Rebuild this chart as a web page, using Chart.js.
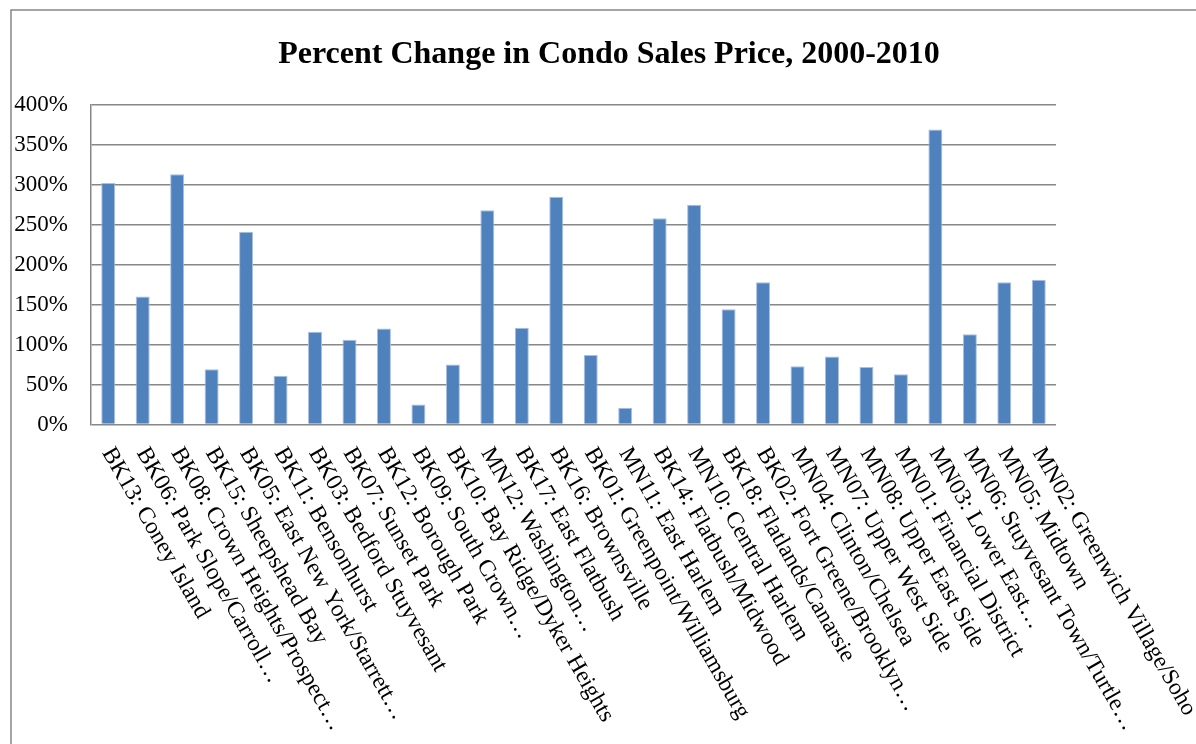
<!DOCTYPE html>
<html>
<head>
<meta charset="utf-8">
<title>Percent Change in Condo Sales Price, 2000-2010</title>
<script src="https://cdn.jsdelivr.net/npm/chart.js@4/dist/chart.umd.min.js"></script>
<style>
  html, body { margin: 0; padding: 0; background: #fff; }
  #wrap { position: relative; width: 1196px; height: 744px; }
</style>
</head>
<body>
<div id="wrap"><canvas id="condoChart"></canvas></div>
<script>
// --- data ---
const districts = [
  'BK13: Coney Island', 'BK06: Park Slope/Carroll…', 'BK08: Crown Heights/Prospect…',
  'BK15: Sheepshead Bay', 'BK05: East New York/Starrett…', 'BK11: Bensonhurst',
  'BK03: Bedford Stuyvesant', 'BK07: Sunset Park', 'BK12: Borough Park',
  'BK09: South Crown…', 'BK10: Bay Ridge/Dyker Heights', 'MN12: Washington…',
  'BK17: East Flatbush', 'BK16: Brownsville', 'BK01: Greenpoint/Williamsburg',
  'MN11: East Harlem', 'BK14: Flatbush/Midwood', 'MN10: Central Harlem',
  'BK18: Flatlands/Canarsie', 'BK02: Fort Greene/Brooklyn…', 'MN04: Clinton/Chelsea',
  'MN07: Upper West Side', 'MN08: Upper East Side', 'MN01: Financial District',
  'MN03: Lower East…', 'MN06: Stuyvesant Town/Turtle…', 'MN05: Midtown',
  'MN02: Greenwich Village/Soho'
];

// percent change 2000-2010
const pctChange = [
  302, 160, 313, 69, 241, 61, 116, 106, 120, 25, 75, 268, 121, 285,
  87, 21, 258, 275, 144, 178, 73, 85, 72, 63, 369, 113, 178, 181
];

const yMin = 0;
const yMax = 400;
const yStep = 50;

const SERIF = '"Liberation Serif", "Times New Roman", Times, serif';
const GRID = '#878787';

// outer frame of the chart
const framePlugin = {
  id: 'frame',
  beforeDraw(chart) {
    const ctx = chart.ctx;
    ctx.save();
    ctx.strokeStyle = GRID;
    ctx.lineWidth = 1.5;
    ctx.beginPath();
    ctx.moveTo(11, chart.height);
    ctx.lineTo(11, 10);
    ctx.lineTo(chart.width, 10);
    ctx.stroke();
    ctx.restore();
  }
};

// slanted category labels, reading downward from each tick
const slantLabels = {
  id: 'slantLabels',
  afterDraw(chart) {
    const ctx = chart.ctx;
    const x = chart.scales.x;
    const bottom = chart.chartArea.bottom;
    ctx.save();
    ctx.font = '23.5px ' + SERIF;
    ctx.fillStyle = '#000';
    ctx.textAlign = 'left';
    ctx.textBaseline = 'alphabetic';
    districts.forEach((name, i) => {
      const px = x.getPixelForTick(i);
      ctx.save();
      ctx.translate(px - 6.5, bottom + 28);
      ctx.rotate(Math.PI * 60 / 180);
      ctx.fillText(name, 0, 0);
      ctx.restore();
    });
    ctx.restore();
  }
};

new Chart(document.getElementById('condoChart'), {
  type: 'bar',
  data: {
    labels: districts,
    datasets: [{
      data: pctChange,
      backgroundColor: '#4F81BD',
      borderColor: '#a9c0e0',
      borderWidth: 1,
      barPercentage: 0.406,
      categoryPercentage: 1
    }]
  },
  options: {
    responsive: true,
    maintainAspectRatio: false,
    animation: false,
    // the frame runs past the right edge, so the title box does too
    layout: { padding: { left: 0, right: -22, top: 0, bottom: 0 } },
    plugins: {
      legend: { display: false },
      tooltip: { enabled: false },
      title: {
        display: true,
        text: 'Percent Change in Condo Sales Price, 2000-2010',
        color: '#000',
        font: { family: SERIF, size: 32, weight: 'bold' },
        padding: { top: 35.8, bottom: 30.5 }
      }
    },
    scales: {
      x: {
        grid: { display: false },
        border: { display: false },
        ticks: { display: false },
        afterFit(scale) { scale.height = 744 - 424.5; }
      },
      y: {
        min: yMin,
        max: yMax,
        grid: { color: GRID, lineWidth: 1.5, drawTicks: false },
        border: { display: true, color: GRID, width: 1.5 },
        ticks: {
          stepSize: yStep,
          padding: 23,
          color: '#000',
          font: { family: SERIF, size: 23 },
          callback: v => v + '%'
        },
        afterFit(scale) { scale.width = 91; }
      },
      spacer: {
        type: 'linear',
        axis: 'y',
        position: 'right',
        grid: { display: false },
        border: { display: false },
        ticks: { display: false },
        afterFit(scale) { scale.width = 1218 - 1056; }
      }
    }
  },
  plugins: [framePlugin, slantLabels]
});
</script>
</body>
</html>
